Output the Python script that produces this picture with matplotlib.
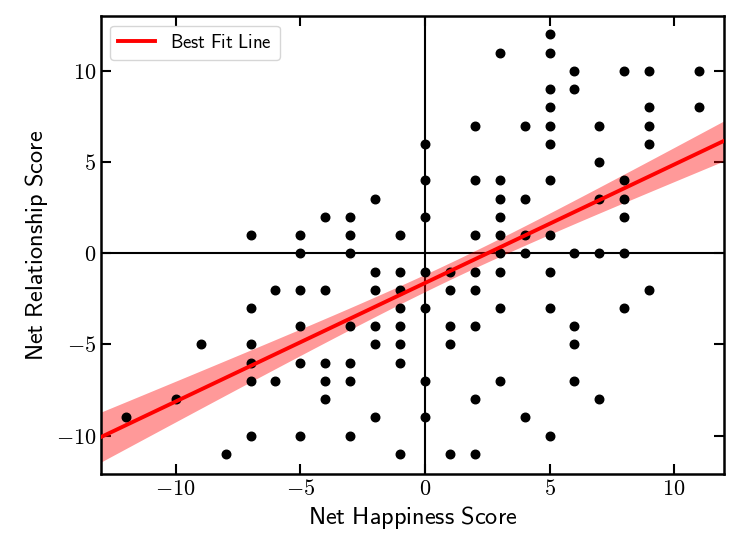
import numpy as np
import matplotlib
matplotlib.use("Agg")
import matplotlib.pyplot as plt
from matplotlib.ticker import FuncFormatter

plt.rcParams['mathtext.fontset'] = 'cm'

# (happiness, relationship) pairs
happiness = [-12, -10, -9, -8,
             -7, -7, -7, -7, -7, -7,
             -6, -6,
             -5, -5, -5, -5, -5, -5,
             -4, -4, -4, -4, -4,
             -3, -3, -3, -3, -3, -3, -3,
             -2, -2, -2, -2, -2, -2,
             -1, -1, -1, -1, -1, -1, -1, -1,
             0, 0, 0, 0, 0, 0, 0,
             1, 1, 1, 1, 1,
             2, 2, 2, 2, 2, 2, 2, 2,
             3, 3, 3, 3, 3, 3, 3, 3, 3,
             4, 4, 4, 4, 4,
             5, 5, 5, 5, 5, 5, 5, 5, 5, 5, 5,
             6, 6, 6, 6, 6, 6,
             7, 7, 7, 7, 7,
             8, 8, 8, 8, 8, 8,
             9, 9, 9, 9, 9,
             11, 11]
relationship = [-9, -8, -5, -11,
                1, -3, -5, -6, -7, -10,
                -2, -7,
                1, 0, -2, -4, -6, -10,
                2, -2, -6, -7, -8,
                2, 1, 0, -4, -6, -7, -10,
                3, -1, -2, -4, -5, -9,
                1, -1, -2, -3, -4, -5, -6, -11,
                6, 4, 2, -1, -3, -7, -9,
                -1, -2, -4, -5, -11,
                7, 4, 1, -1, -2, -4, -8, -11,
                11, 4, 3, 2, 1, -1, -3, -7, 0,
                7, 3, 1, 0, -9,
                12, 11, 9, 8, 7, 6, 4, 1, -1, -3, -10,
                10, 9, 0, -4, -5, -7,
                7, 5, 3, 0, -8,
                10, 4, 3, 2, 0, -3,
                10, 8, 7, 6, -2,
                10, 8]

x = np.array(happiness, dtype=float)
y = np.array(relationship, dtype=float)

# least squares fit and confidence band
slope, intercept = np.polyfit(x, y, 1)
n = len(x)
resid = y - (slope * x + intercept)
s = np.sqrt(np.sum(resid ** 2) / (n - 2))
sxx = np.sum((x - x.mean()) ** 2)
xs = np.linspace(-13, 12, 200)
ys = slope * xs + intercept
se = s * np.sqrt(1.0 / n + (xs - x.mean()) ** 2 / sxx)
band = 1.0 * se

fig = plt.figure(figsize=(7.41, 5.39), dpi=100)
ax = fig.add_axes([0.1363, 0.1206, 0.8407, 0.8494])

ax.axhline(0, color='black', lw=1.5, zorder=1)
ax.axvline(0, color='black', lw=1.5, zorder=1)
ax.scatter(x, y, s=38, color='black', zorder=3)
ax.fill_between(xs, ys - band, ys + band, color='red', alpha=0.4, lw=0, zorder=2)
ax.plot(xs, ys, color='red', lw=2.8, zorder=4, label=r'$\mathsf{Best\ Fit\ Line}$')

ax.set_xlim(-13, 12)
ax.set_ylim(-12.1, 13)
ax.set_xticks([-10, -5, 0, 5, 10])
ax.set_yticks([-10, -5, 0, 5, 10])
fmt = FuncFormatter(lambda v, p: r'$%d$' % v)
ax.xaxis.set_major_formatter(fmt)
ax.yaxis.set_major_formatter(fmt)
ax.tick_params(direction='in', top=True, right=True, length=7, width=1.5, labelsize=16)
for sp in ax.spines.values():
    sp.set_linewidth(1.8)

ax.set_xlabel(r'$\mathsf{Net\ Happiness\ Score}$', fontsize=17.5)
ax.set_ylabel(r'$\mathsf{Net\ Relationship\ Score}$', fontsize=17.5)
ax.legend(loc='upper left', fontsize=13.5, handlelength=2.0)

fig.savefig('out.png', dpi=100)
